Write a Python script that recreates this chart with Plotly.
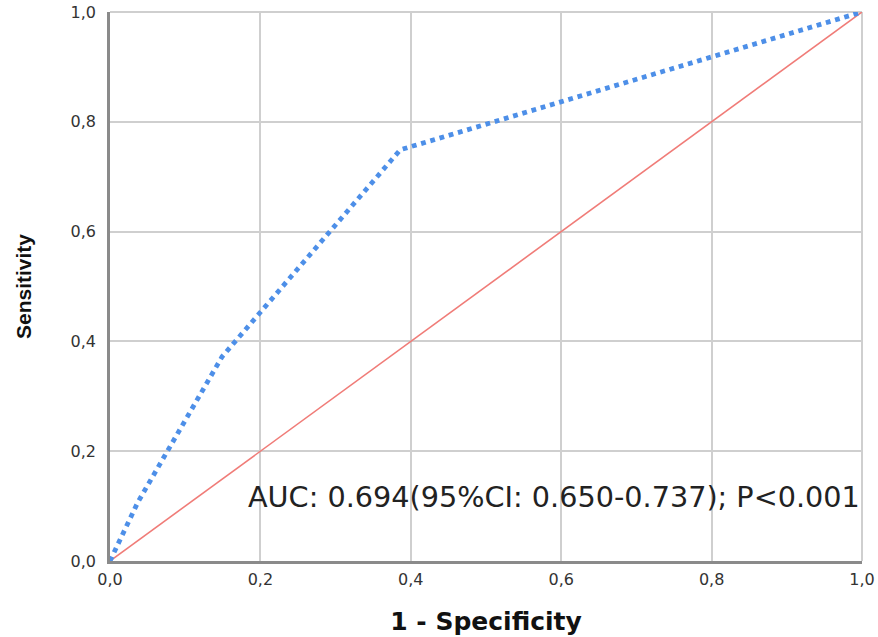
import plotly.graph_objects as go

fpr = [0.0, 0.037, 0.149, 0.386, 1.0]
tpr = [0.0, 0.107, 0.372, 0.749, 1.0]
ref_x = [0.0, 1.0]
ref_y = [0.0, 1.0]
tick_vals = [0.0, 0.2, 0.4, 0.6, 0.8, 1.0]
annotation_text = "AUC: 0.694(95%CI: 0.650-0.737); P<0.001"

fig = go.Figure()
fig.add_trace(go.Scatter(x=ref_x, y=ref_y, mode="lines",
                         line=dict(color="#f07c78", width=1.6), showlegend=False))
fig.add_trace(go.Scatter(x=fpr, y=tpr, mode="lines",
                         line=dict(color="#4d8fe8", width=4.8, dash="dot"), showlegend=False))

fig.add_annotation(x=1.0, y=0.117, xref="x", yref="y", text=annotation_text,
                   showarrow=False, xanchor="right", yanchor="middle",
                   font=dict(family="DejaVu Sans", size=28.7, color="#222222"))

# light frame on top and right, like the reference
fig.add_shape(type="line", xref="paper", yref="paper", x0=0, x1=1, y0=1, y1=1,
              line=dict(color="#cfcfcf", width=2), layer="below")
fig.add_shape(type="line", xref="paper", yref="paper", x0=1, x1=1, y0=0, y1=1,
              line=dict(color="#cfcfcf", width=2), layer="below")

axis_common = dict(range=[0, 1], tickvals=tick_vals, tickformat=".1f",
                   showgrid=True, gridcolor="#cfcfcf", gridwidth=2,
                   zeroline=False, showline=True, linecolor="#8a8a8a", linewidth=2.5,
                   ticks="", automargin=False, ticklabeloverflow="allow",
                   tickfont=dict(family="DejaVu Sans", size=16, color="#333333"))

fig.update_xaxes(**axis_common, ticklabelstandoff=2,
                 title=dict(text="<b>1 - Specificity</b>", standoff=25,
                            font=dict(family="DejaVu Sans", size=25, color="#111111")))
fig.update_yaxes(**axis_common, ticklabelstandoff=8,
                 title=dict(text="<b>Sensitivity</b>", standoff=34,
                            font=dict(family="Liberation Sans", size=21, color="#111111")))

fig.update_layout(width=878, height=637, separators=",.",
                  margin=dict(l=110, r=16, t=12, b=76, autoexpand=False),
                  plot_bgcolor="white", paper_bgcolor="white")

fig.write_html("out.html", config={"displayModeBar": False},
               post_script="document.body.style.margin='0';document.body.style.overflow='hidden';")
